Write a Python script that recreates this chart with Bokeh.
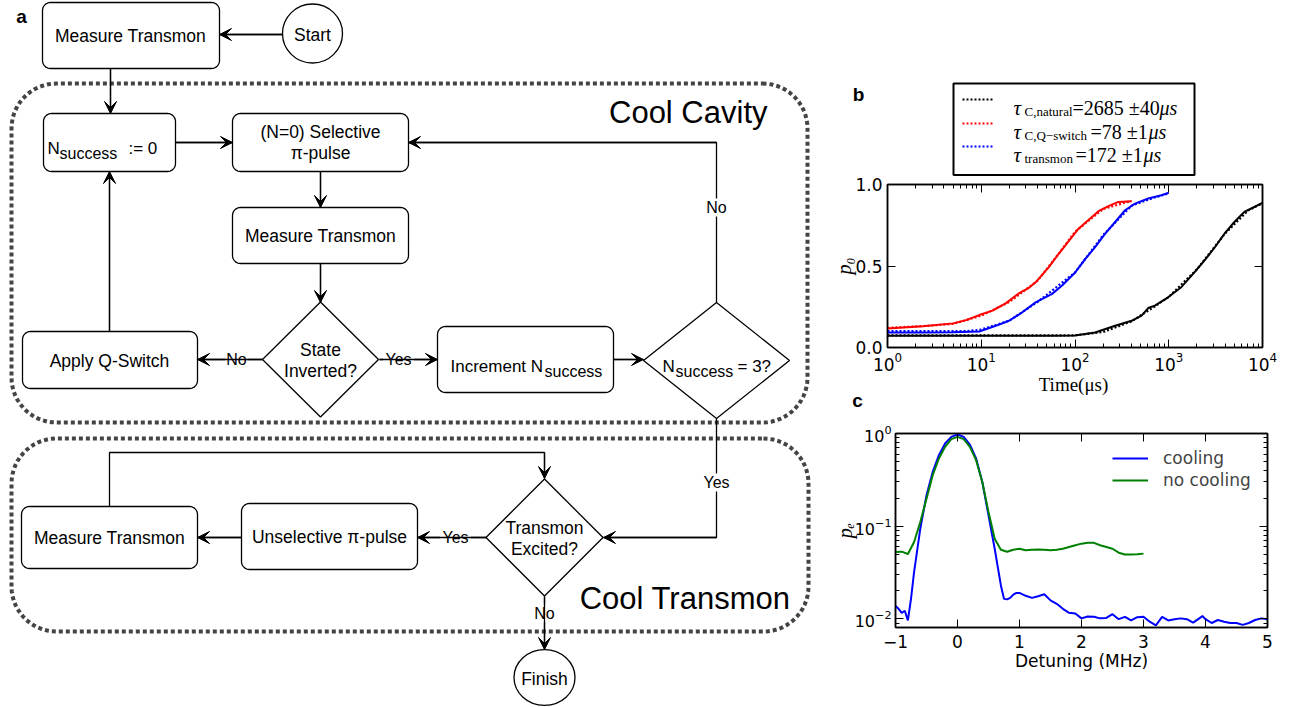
import numpy as np
from bokeh.plotting import figure
from bokeh.layouts import row, column
from bokeh.models import (Range1d, Arrow, VeeHead, FixedTicker, LogTicker,
                          LinearAxis, LogAxis, Legend, LegendItem, PrintfTickFormatter,
                          CustomJSTickFormatter)
from bokeh.core.properties import value
from bokeh.embed import file_html
from bokeh.resources import INLINE

# ---------------- panel b data (p0 vs time, us) ----------------
t_qswitch = [1, 2.4, 5.0, 6.9, 9.5, 13.2, 18.2, 25.3, 32.3, 38, 52.6, 67.1, 85.7, 109, 140, 178, 227, 290, 402]
p0_qswitch = [0.117, 0.131, 0.148, 0.168, 0.199, 0.226, 0.271, 0.333, 0.366, 0.40, 0.493, 0.575,
              0.653, 0.729, 0.784, 0.836, 0.867, 0.893, 0.897]
t_transmon = [1, 2.4, 5.0, 9.5, 14.3, 19.8, 27.4, 38, 57, 72.8, 101, 129, 164, 210, 268, 342, 437, 604, 836, 1000]
p0_transmon = [0.092, 0.092, 0.093, 0.098, 0.133, 0.164, 0.216, 0.277, 0.329, 0.38, 0.462, 0.544,
               0.616, 0.698, 0.77, 0.842, 0.883, 0.914, 0.934, 0.949]
t_natural = [1, 60, 100, 164, 268, 402, 513, 604, 711, 984, 1361, 1888, 2410, 3076, 3926, 5012, 6397, 8166, 10000]
p0_natural = [0.072, 0.072, 0.074, 0.092, 0.133, 0.164, 0.195, 0.242, 0.257, 0.308, 0.37, 0.462,
              0.534, 0.612, 0.698, 0.77, 0.832, 0.862, 0.887]
# fits (dotted)
tf_qswitch = [1, 3, 5, 10, 20, 40, 70, 100, 200, 400]
pf_qswitch = [0.12, 0.135, 0.145, 0.195, 0.28, 0.41, 0.59, 0.71, 0.85, 0.90]
tf_transmon = [1, 3, 7, 10, 20, 40, 70, 100, 200, 400, 700, 1000]
pf_transmon = [0.10, 0.10, 0.10, 0.11, 0.165, 0.28, 0.39, 0.46, 0.69, 0.87, 0.92, 0.945]
tf_natural = [1, 100, 200, 400, 700, 1000, 2000, 4000, 7000, 10000]
pf_natural = [0.075, 0.075, 0.095, 0.16, 0.25, 0.31, 0.48, 0.70, 0.84, 0.885]

legend_sub = ["C,natural", "C,Q\u2212switch", "transmon"]
legend_val = ["=2685 \u00b140", "=78 \u00b11", "=172 \u00b11"]
legend_col = ["black", "red", "blue"]

# ---------------- panel c data (pe vs detuning, MHz) ----------------
det_cool = [-1.0, -0.95, -0.9, -0.85, -0.8, -0.75, -0.7, -0.6, -0.5, -0.4, -0.3, -0.2, -0.1, 0.0, 0.1, 0.2,
            0.3, 0.4, 0.5, 0.6, 0.7, 0.75, 0.8, 0.85, 0.9, 0.95, 1.0, 1.1, 1.2, 1.3, 1.4, 1.5, 1.6, 1.7,
            1.8, 1.9, 2.0, 2.1, 2.2, 2.3, 2.4, 2.5, 2.6, 2.7, 2.8, 2.9, 3.0, 3.1, 3.2, 3.3, 3.4, 3.5, 3.6,
            3.7, 3.8, 3.9, 3.95, 4.0, 4.1, 4.2, 4.3, 4.4, 4.5, 4.6, 4.7, 4.8, 4.9, 5.0]
pe_cool = [0.0137, 0.0128, 0.0116, 0.0122, 0.0096, 0.0164, 0.032, 0.094, 0.215, 0.385, 0.583, 0.78, 0.92,
           0.975, 0.92, 0.76, 0.537, 0.30, 0.131, 0.057, 0.0229, 0.0164, 0.0162, 0.0168, 0.0182, 0.019,
           0.019, 0.0177, 0.0168, 0.0175, 0.0184, 0.0158, 0.0145, 0.0128, 0.0116, 0.0114, 0.0101, 0.0106,
           0.0105, 0.0101, 0.0102, 0.0112, 0.0099, 0.0105, 0.0096, 0.0104, 0.0105, 0.0093, 0.0085, 0.0105,
           0.0096, 0.0099, 0.0101, 0.0099, 0.0091, 0.0101, 0.0107, 0.0099, 0.009, 0.0097, 0.0093, 0.009,
           0.009, 0.0086, 0.009, 0.0097, 0.0101, 0.0099]
det_nocool = [-1.0, -0.9, -0.8, -0.7, -0.6, -0.5, -0.4, -0.3, -0.2, -0.1, 0.0, 0.1, 0.2, 0.3, 0.4, 0.5, 0.6,
              0.7, 0.8, 0.9, 1.0, 1.1, 1.2, 1.3, 1.4, 1.5, 1.6, 1.7, 1.8, 1.9, 2.0, 2.1, 2.2, 2.3, 2.4,
              2.5, 2.6, 2.7, 2.8, 2.9, 3.0]
pe_nocool = [0.0526, 0.053, 0.050, 0.0675, 0.111, 0.198, 0.355, 0.537, 0.718, 0.869, 0.92, 0.869, 0.718,
             0.515, 0.30, 0.142, 0.073, 0.0557, 0.053, 0.0557, 0.057, 0.0548, 0.0557, 0.056, 0.0557,
             0.0548, 0.0557, 0.057, 0.0596, 0.0622, 0.0647, 0.066, 0.066, 0.0622, 0.0596, 0.057, 0.0517,
             0.0494, 0.0494, 0.0498, 0.0505]
c_ticks = [-1, 0, 1, 2, 3, 4, 5]

# ---------------- flowchart layout (page pixels) ----------------
SANS = "Liberation Sans"
SERIF = "Liberation Serif"
BOXES = [(42, 2, 219, 68), (43, 113, 175, 171), (232, 113, 408, 171), (232, 207, 408, 263),
         (22, 331, 197, 388), (437, 326, 613, 392), (241, 503, 417, 569), (21, 506, 197, 568)]
DIAMONDS = [(320, 359, 58, 57.5), (716, 360, 73, 58), (544, 537, 58.5, 58.5)]
ELLIPSES = [(312, 33, 60, 59, "Start"), (544, 677, 61, 56, "Finish")]
EDGES = [
    [(282, 34), (219, 34)],
    [(110, 68), (110, 113)],
    [(175, 142), (232, 142)],
    [(320, 171), (320, 207)],
    [(320, 263), (320, 302)],
    [(262, 359), (197, 359)],
    [(109, 331), (109, 171)],
    [(379, 359), (437, 359)],
    [(613, 359), (643, 359)],
    [(716, 302), (716, 142), (408, 142)],
    [(716, 418), (716, 537), (603, 537)],
    [(486, 537), (417, 537)],
    [(241, 537), (197, 537)],
    [(109, 506), (109, 452), (544, 452), (544, 478)],
    [(544, 596), (544, 649)],
]
EDGE_LABELS = [(236, 359, "No"), (398, 359, "Yes"), (716, 207, "No"), (716, 482, "Yes"),
               (455, 537, "Yes"), (544, 613, "No")]
TEXTS = [(130, 35, "Measure Transmon"), (320, 131, "(N=0) Selective"), (320, 152, "\u03c0-pulse"),
         (320, 235, "Measure Transmon"), (320, 349, "State"), (320, 370, "Inverted?"),
         (109, 360, "Apply Q-Switch"), (544, 527, "Transmon"), (544, 548, "Excited?"),
         (329, 536, "Unselective \u03c0-pulse"), (109, 537, "Measure Transmon")]
# (x_main, main text, x_sub, x_after, after text, baseline)
NTEXTS = [(47, "N", 59, 128, ":= 0", 148), (450, "Increment N", 544, None, "", 366),
          (662, "N", 675, 737, "= 3?", 366)]


def rrect(x0, y0, x1, y1, r, n=10):
    xs, ys = [], []
    for cx, cy, a0, a1 in [(x1 - r, y0 + r, -90, 0), (x1 - r, y1 - r, 0, 90),
                           (x0 + r, y1 - r, 90, 180), (x0 + r, y0 + r, 180, 270)]:
        for a in np.linspace(np.radians(a0), np.radians(a1), n):
            xs.append(cx + r * np.cos(a))
            ys.append(cy + r * np.sin(a))
    return xs, ys


def no_align(p):
    if "frame_align" in p.properties():
        p.frame_align = False


fc = figure(width=830, height=707, x_range=Range1d(0, 830), y_range=Range1d(707, 0),
            x_axis_location=None, y_axis_location=None, min_border=0,
            output_backend="svg", toolbar_location=None)
fc.grid.visible = False
fc.outline_line_color = None

# dotted containers
for (x0, y0, x1, y1) in [(11, 83, 807, 422), (11, 438, 808, 631)]:
    xs, ys = rrect(x0, y0, x1, y1, 45, 16)
    fc.line(xs + [xs[0]], ys + [ys[0]], line_color="#444444", line_width=4, line_dash="4 3")
fc.text([767], [112], ["Cool Cavity"], text_font=value(SANS), text_font_size="31px",
        text_align="right", text_baseline="middle", text_color="black")
fc.text([790], [598], ["Cool Transmon"], text_font=value(SANS), text_font_size="31px",
        text_align="right", text_baseline="middle", text_color="black")

# edges
for pts in EDGES:
    fc.line([p[0] for p in pts], [p[1] for p in pts], line_color="black", line_width=1.3)
    (xa, ya), (xb, yb) = pts[-2], pts[-1]
    fc.add_layout(Arrow(end=VeeHead(size=12, fill_color="black", line_color="black", line_width=1),
                        x_start=xa, y_start=ya, x_end=xb, y_end=yb, line_color="black", line_width=1.3))
fc.rect([l[0] for l in EDGE_LABELS], [l[1] for l in EDGE_LABELS],
        [len(l[2]) * 9 + 4 for l in EDGE_LABELS], 18, fill_color="white", line_color=None)
fc.text([l[0] for l in EDGE_LABELS], [l[1] for l in EDGE_LABELS], [l[2] for l in EDGE_LABELS],
        text_font=value(SANS), text_font_size="16px", text_align="center", text_baseline="middle")

# boxes
bx, by = [], []
for b in BOXES:
    xs, ys = rrect(*b, 8)
    bx.append(xs)
    by.append(ys)
fc.patches(bx, by, fill_color="white", line_color="black", line_width=1.3)
fc.patches([[cx - hw, cx, cx + hw, cx] for cx, cy, hw, hh in DIAMONDS],
           [[cy, cy - hh, cy, cy + hh] for cx, cy, hw, hh in DIAMONDS],
           fill_color="white", line_color="black", line_width=1.3)
fc.ellipse([e[0] for e in ELLIPSES], [e[1] for e in ELLIPSES], [e[2] for e in ELLIPSES],
           [e[3] for e in ELLIPSES], fill_color="white", line_color="black", line_width=1.3)
fc.text([e[0] for e in ELLIPSES], [e[1] + 1 for e in ELLIPSES], [e[4] for e in ELLIPSES],
        text_font=value(SANS), text_font_size="17.5px", text_align="center", text_baseline="middle")
fc.text([t[0] for t in TEXTS], [t[1] for t in TEXTS], [t[2] for t in TEXTS],
        text_font=value(SANS), text_font_size="17.5px", text_align="center", text_baseline="middle")
for xm, tm, xs_, xa, ta, bl in NTEXTS:
    fc.text([xm], [bl], [tm], text_font=value(SANS), text_font_size="17px",
            text_align="left", text_baseline="alphabetic")
    fc.text([xs_], [bl + 5], ["success"], text_font=value(SANS), text_font_size="16px",
            text_align="left", text_baseline="alphabetic")
    if xa is not None:
        fc.text([xa], [bl], [ta], text_font=value(SANS), text_font_size="17px",
                text_align="left", text_baseline="alphabetic")
fc.text([21], [16], ["a"], text_font=value(SANS), text_font_size="19px", text_font_style="bold",
        text_align="center", text_baseline="middle")


def blank_fig(h, y0, y1):
    f = figure(width=464, height=h, x_range=Range1d(830, 1294), y_range=Range1d(y1, y0),
               x_axis_location=None, y_axis_location=None, min_border=0,
               output_backend="svg", toolbar_location=None)
    f.grid.visible = False
    f.outline_line_color = None
    no_align(f)
    return f


# ---------------- legend block for panel b (page y 0..176) ----------------
lg = blank_fig(176, 0, 176)
lg.text([858], [94], ["b"], text_font=value(SANS), text_font_size="19px", text_font_style="bold",
        text_align="center", text_baseline="middle")
lg.quad(left=[953], right=[1194], top=[83], bottom=[174.5], fill_color=None, line_color="black", line_width=2)
rows_base = [107, 131, 154]
val_x = [1072, 1090, 1075]
mu_x = [1159, 1148, 1143]
for i in range(3):
    bl = rows_base[i]
    lg.line([962, 994], [bl - 8, bl - 8], line_color=legend_col[i], line_width=2.2, line_dash="2 2")
    lg.text([1013], [bl], ["\u03c4"], text_font=value(SERIF), text_font_size="21px",
            text_font_style="italic", text_baseline="alphabetic")
    lg.text([1024], [bl + 4], [legend_sub[i]], text_font=value(SERIF), text_font_size="13px",
            text_baseline="alphabetic")
    lg.text([val_x[i]], [bl], [legend_val[i]], text_font=value(SERIF), text_font_size="20px",
            text_baseline="alphabetic")
    lg.text([mu_x[i]], [bl], ["\u03bcs"], text_font=value(SERIF), text_font_size="20px",
            text_font_style="italic", text_baseline="alphabetic")

EMPTY = CustomJSTickFormatter(code="return ''")


def style_axes(p):
    for ax in p.axis:
        ax.axis_line_color = "black"
        ax.axis_line_width = 1.5
        ax.major_tick_in = 8
        ax.major_tick_out = 0
        ax.minor_tick_in = 4
        ax.minor_tick_out = 0
        ax.major_tick_line_color = "black"
        ax.minor_tick_line_color = "black"
        ax.major_tick_line_width = 1
        ax.major_label_text_font = "DejaVu Sans"
        ax.major_label_text_font_size = "17px"
        ax.major_label_text_color = "black"
        ax.axis_label_text_color = "black"
    for ax in p.right + p.above:
        ax.major_label_text_font_size = "1px"
        ax.major_label_text_alpha = 0
        ax.major_label_standoff = 0
    p.grid.visible = False
    p.outline_line_color = "black"
    p.outline_line_width = 1.5


# ---------------- panel b (page y 176..375) ----------------
pb = figure(width=464, height=199, x_axis_type="log", x_range=Range1d(1, 1e4), y_range=Range1d(0, 1),
            min_border_left=54, min_border_right=32, min_border_top=8, min_border_bottom=28,
            output_backend="svg", toolbar_location=None)
no_align(pb)
pb.line(t_natural, p0_natural, line_color="black", line_width=2)
pb.line(t_qswitch, p0_qswitch, line_color="red", line_width=2)
pb.line(t_transmon, p0_transmon, line_color="blue", line_width=2)
pb.line(tf_natural, pf_natural, line_color="black", line_width=2.2, line_dash="2 2")
pb.line(tf_qswitch, pf_qswitch, line_color="red", line_width=2.2, line_dash="2 2")
pb.line(tf_transmon, pf_transmon, line_color="blue", line_width=2.2, line_dash="2 2")
pb.below[0].ticker = LogTicker(num_minor_ticks=10)
pb.left[0].ticker = FixedTicker(ticks=[0, 0.5, 1.0])
pb.left[0].formatter = PrintfTickFormatter(format="%.1f")
pb.add_layout(LinearAxis(ticker=FixedTicker(ticks=[0, 0.5, 1.0]), formatter=EMPTY), "right")
pb.add_layout(LogAxis(ticker=LogTicker(num_minor_ticks=10), formatter=EMPTY), "above")
style_axes(pb)
bx_ax, by_ax = pb.below[0], pb.left[0]
bx_ax.major_label_standoff = 4
by_ax.major_label_standoff = 5
by_ax.axis_label = "p\u2080"
by_ax.axis_label_text_font = SERIF
by_ax.axis_label_text_font_size = "20px"
by_ax.axis_label_text_font_style = "italic"
by_ax.axis_label_standoff = -3

# ---------------- strip with x label of b and panel letter c (page y 375..412) ----------------
st = blank_fig(37, 375, 412)
st.text([1073], [384], ["Time(\u03bcs)"], text_font=value(SERIF), text_font_size="19px",
        text_align="center", text_baseline="middle")
st.text([857], [400], ["c"], text_font=value(SANS), text_font_size="19px", text_font_style="bold",
        text_align="center", text_baseline="middle")

# ---------------- panel c (page y 412..707) ----------------
pc = figure(width=464, height=295, y_axis_type="log", x_range=Range1d(-1, 5), y_range=Range1d(0.00805, 1.0),
            min_border_left=60, min_border_right=27, min_border_top=21, min_border_bottom=80,
            output_backend="svg", toolbar_location=None)
no_align(pc)
r_cool = pc.line(det_cool, pe_cool, line_color="blue", line_width=2)
r_nocool = pc.line(det_nocool, pe_nocool, line_color="green", line_width=2)
pc.below[0].ticker = FixedTicker(ticks=c_ticks)
pc.below[0].major_label_overrides = {-1: "\u22121"}
pc.left[0].ticker = LogTicker(num_minor_ticks=10)
pc.add_layout(LogAxis(ticker=LogTicker(num_minor_ticks=10), formatter=EMPTY), "right")
pc.add_layout(LinearAxis(ticker=FixedTicker(ticks=c_ticks), formatter=EMPTY), "above")
style_axes(pc)
cx_ax, cy_ax = pc.below[0], pc.left[0]
cx_ax.major_label_standoff = 7
cx_ax.axis_label = "Detuning (MHz)"
cx_ax.axis_label_text_font = "DejaVu Sans"
cx_ax.axis_label_text_font_size = "17px"
cx_ax.axis_label_text_font_style = "normal"
cx_ax.axis_label_standoff = 0
cy_ax.major_label_standoff = 4
cy_ax.major_label_text_font_size = "16px"
cy_ax.axis_label = "p\u2091"
cy_ax.axis_label_text_font = SERIF
cy_ax.axis_label_text_font_size = "20px"
cy_ax.axis_label_text_font_style = "italic"
cy_ax.axis_label_standoff = -4
leg = Legend(items=[LegendItem(label="cooling", renderers=[r_cool]),
                    LegendItem(label="no cooling", renderers=[r_nocool])],
             location=(217, 137), border_line_color=None, background_fill_alpha=0, padding=0, margin=0,
             glyph_width=36, glyph_height=20, label_height=20, spacing=2, label_standoff=15,
             label_text_font="DejaVu Sans", label_text_font_size="17px")
pc.add_layout(leg)

layout = row(fc, column(lg, pb, st, pc))
open("out.html", "w").write(file_html(layout, INLINE))
